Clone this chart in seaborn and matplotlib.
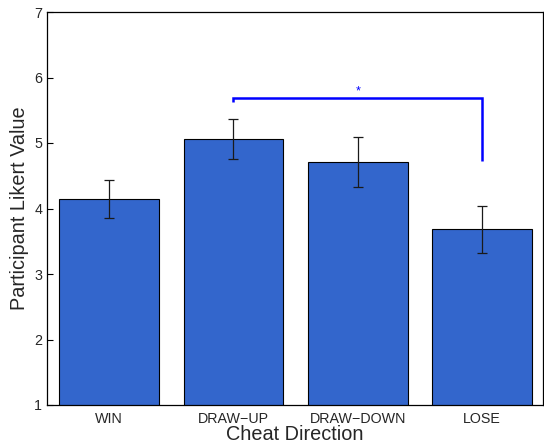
import matplotlib
matplotlib.use("Agg")
import matplotlib.pyplot as plt
import seaborn as sns
import pandas as pd
import numpy as np

categories = ["WIN", "DRAW\u2212UP", "DRAW\u2212DOWN", "LOSE"]
means = [4.15, 5.06, 4.71, 3.69]
err_upper = [4.44, 5.37, 5.09, 4.04]
err_lower = [3.86, 4.76, 4.33, 3.32]
y_ticks = [1, 2, 3, 4, 5, 6, 7]

sns.set_theme(style="white")
plt.rcParams['font.family'] = ['Liberation Sans', 'DejaVu Sans']

df = pd.DataFrame({"cat": categories, "val": means})

fig = plt.figure(figsize=(5.44, 4.45), dpi=100)
ax = fig.add_axes([47/544, 1 - 405/445, (543 - 47)/544, (405 - 12)/445])

sns.barplot(data=df, x="cat", y="val", color="#3366CC", saturation=1,
            edgecolor="black", linewidth=0.8, width=0.8, errorbar=None, ax=ax)

x = np.arange(len(categories))
m = np.array(means)
yerr = np.vstack([m - np.array(err_lower), np.array(err_upper) - m])
ax.errorbar(x, m, yerr=yerr, fmt="none", ecolor="#1a1a1a", elinewidth=0.9,
            capsize=3.5, capthick=0.9)

# significance bracket between DRAW-UP and LOSE
br_y = 5.69
ax.plot([1, 1, 3, 3], [5.63, br_y, br_y, 4.72], color="#0000FF", lw=1.8,
        solid_joinstyle="miter", solid_capstyle="butt")
ax.text(2, br_y + 0.01, "*", color="#0000FF", ha="center", va="bottom", fontsize=9)

ax.set_xlim(-0.5, 3.49)
ax.set_ylim(1, 7)
ax.set_yticks(y_ticks)
ax.set_yticklabels([str(t) for t in y_ticks])
ax.tick_params(axis="y", direction="in", length=4, width=0.8, left=True, labelsize=10.3, pad=3.5, color="black")
ax.tick_params(axis="x", length=0, labelsize=10.3, pad=5)
for s in ax.spines.values():
    s.set_color("black")
    s.set_linewidth(0.9)
    s.set_visible(True)
ax.set_xlabel("Cheat Direction", fontsize=14.3, labelpad=-1)
ax.set_ylabel("Participant Likert Value", fontsize=14.3, labelpad=4)

fig.savefig("out.png", dpi=100)
